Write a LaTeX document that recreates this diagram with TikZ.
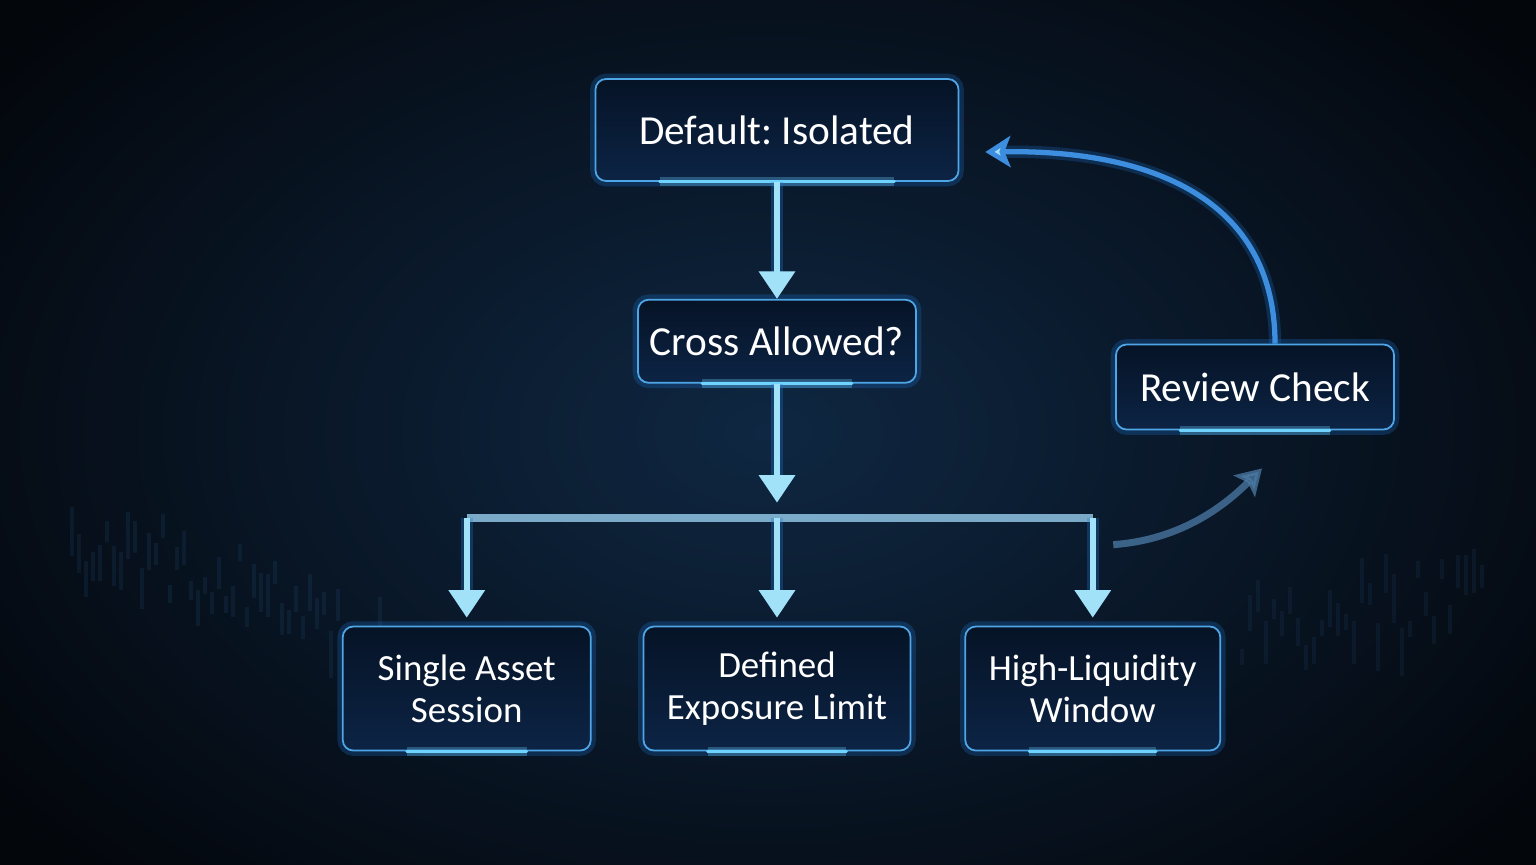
\documentclass[tikz,border=0pt]{standalone}
\usepackage{fontspec}
\setmainfont{Carlito}
\frenchspacing
\usepackage{tikz}
\usetikzlibrary{arrows.meta,positioning,calc}
\definecolor{bgdeep}{HTML}{03060B}
\definecolor{bgglow}{HTML}{0F2742}
\definecolor{boxtop}{HTML}{061326}
\definecolor{boxbot}{HTML}{0C2445}
\definecolor{boxedge}{HTML}{4FA6E6}
\definecolor{haloblue}{HTML}{1E78D8}
\definecolor{rimcyan}{HTML}{6FD3FF}
\definecolor{flowcyan}{HTML}{A2E2F8}
\definecolor{barblue}{HTML}{8EC3E2}
\definecolor{loopblue}{HTML}{3E8EE0}
\definecolor{dimblue}{HTML}{4C7BA6}
\definecolor{candle}{HTML}{2A5C8C}
\tikzset{
  stage/.style   = {draw=boxedge, line width=1pt, rounded corners=6pt,
                    top color=boxtop, bottom color=boxbot, text=white,
                    align=center, inner sep=2pt,
                    preaction={draw=haloblue, line width=6pt, opacity=0.25}},
  bigtxt/.style  = {font=\fontsize{23.5}{28}\selectfont},
  smalltxt/.style= {font=\fontsize{21}{24}\selectfont},
  rimglow/.style = {line width=1.6pt, rimcyan, line cap=round,
                    preaction={draw=rimcyan, line width=5pt, opacity=0.3}},
  flow/.style    = {-{Triangle[width=0.7cm,length=0.55cm]}, line width=3.5pt,
                    flowcyan, preaction={draw=haloblue, line width=7pt, opacity=0.3}},
  bar/.style     = {line width=4.5pt, barblue, opacity=0.85},
  loopback/.style= {-{Stealth[width=0.62cm,length=0.5cm,inset=0.12cm,fill=flowcyan]},
                    line width=3pt, loopblue,
                    preaction={draw=haloblue, line width=7pt, opacity=0.25}},
  faint/.style   = {-{Stealth[width=0.6cm,length=0.5cm,inset=0.1cm]},
                    line width=4pt, dimblue, opacity=0.75},
}

\begin{document}
\begin{tikzpicture}
% ---- backdrop ----
\useasboundingbox (0,0) rectangle (30.72,-17.28);
\clip (0,0) rectangle (30.72,-17.28);
\fill[bgdeep] (0,0) rectangle (30.72,-17.28);
\shade[inner color=bgglow, outer color=bgdeep] (-4,4) rectangle (34.72,-21.28);
\pgfmathsetseed{11}
\foreach \i in {0,...,44} {
  \pgfmathsetmacro{\cx}{1.4+\i*0.14}
  \pgfmathsetmacro{\cy}{-11.2-0.045*\i+rnd*1.6}
  \pgfmathsetmacro{\ch}{0.3+rnd*0.7}
  \fill[candle, opacity=0.16] (\cx,\cy) rectangle ++(0.07,-\ch);
}
\foreach \i in {0,...,30} {
  \pgfmathsetmacro{\cx}{24.8+\i*0.16}
  \pgfmathsetmacro{\cy}{-11.6+0.03*\i-rnd*1.6}
  \pgfmathsetmacro{\ch}{0.3+rnd*0.7}
  \fill[candle, opacity=0.13] (\cx,\cy) rectangle ++(0.07,-\ch);
}

% ---- stages ----
\node[stage, bigtxt, minimum width=7.26cm, minimum height=2.04cm] (default) at (15.54,-2.6) {Default: Isolated};
\node[stage, bigtxt, minimum width=5.56cm, minimum height=1.66cm, below=2.34cm of default] (cross) {Cross Allowed?};
\node[stage, smalltxt, minimum width=5.34cm, minimum height=2.48cm, below=4.84cm of cross] (defined) {Defined\\Exposure Limit};
\node[stage, smalltxt, minimum width=4.96cm, minimum height=2.48cm, left=1.02cm of defined] (single) {Single Asset\\Session};
\node[stage, smalltxt, minimum width=5.10cm, minimum height=2.48cm, right=1.06cm of defined] (high) {High-Liquidity\\Window};
\node[stage, bigtxt, minimum width=5.56cm, minimum height=1.70cm] (review) at (25.1,-7.74) {Review Check};
\foreach \n in {default,cross,review,single,defined,high}
  \draw[rimglow] ($(\n.south west)+(1.3,0)$) -- ($(\n.south east)+(-1.3,0)$);

% ---- connectors ----
\coordinate (fork) at ($(cross.south)+(0,-2.68)$);
\draw[flow] (default.south) -- (cross.north);
\draw[flow] (cross.south) -- ($(fork)+(0,0.3)$);
\draw[bar] (single.north |- fork) -- (high.north |- fork);
\foreach \n in {single,defined,high}
  \draw[flow] (\n.north |- fork) -- ($(\n.north)+(0,0.16)$);

\coordinate (loopstart) at ($(review.north)+(0.4,0)$);
\coordinate (loopend) at ($(default.east)+(0.52,-0.44)$);
\draw[loopback] (loopstart) .. controls ($(loopstart)+(0,2.9)$) and ($(loopend)+(3.3,0.05)$) .. (loopend);

\coordinate (hintstart) at ($(high.north)+(0.41,1.62)$);
\coordinate (hintend) at ($(review.south)+(0.14,-0.76)$);
\draw[faint] (hintstart) .. controls ($(hintstart)+(1.4,0.1)$) and ($(hintend)+(-0.7,-0.7)$) .. (hintend);
\end{tikzpicture}
\end{document}
